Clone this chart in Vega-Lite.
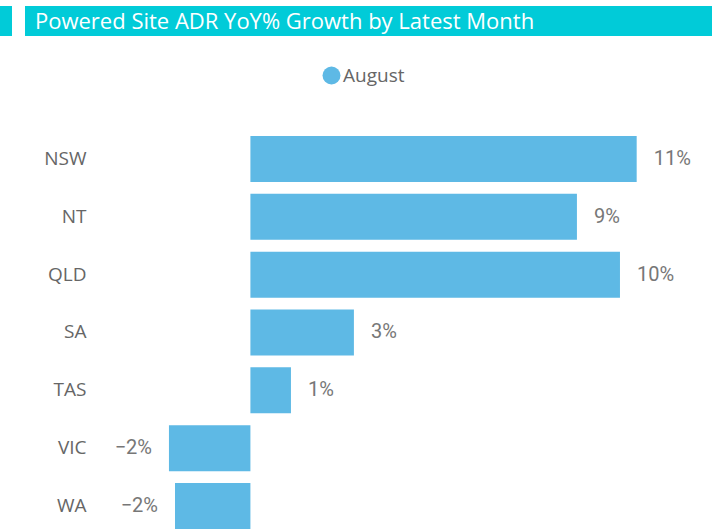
{
  "$schema": "https://vega.github.io/schema/vega-lite/v6.json",
  "padding": {"left": 0, "top": 6, "right": 0, "bottom": 0},
  "spacing": 14,
  "config": {"view": {"stroke": null}, "concat": {"spacing": 13}},
  "vconcat": [
    {
      "hconcat": [
        {
          "width": 12, "height": 30,
          "view": {"fill": "#01CBD8", "stroke": null},
          "data": {"values": [{"t": ""}]},
          "mark": {"type": "text"},
          "encoding": {"text": {"field": "t"}}
        },
        {
          "width": 687, "height": 30,
          "view": {"fill": "#01CBD8", "stroke": null},
          "data": {"values": [{"t": "Powered Site ADR YoY% Growth by Latest Month"}]},
          "mark": {"type": "text", "align": "left", "baseline": "alphabetic", "color": "white", "font": "Open Sans", "fontSize": 22},
          "encoding": {"text": {"field": "t"}, "x": {"value": 10}, "y": {"value": 23}}
        }
      ]
    },
    {
      "width": 700,
      "height": 482,
      "data": {"values": [
        {"state": "NSW", "v": 0.1086, "month": "August"},
        {"state": "NT", "v": 0.0918, "month": "August"},
        {"state": "QLD", "v": 0.1039, "month": "August"},
        {"state": "SA", "v": 0.0291, "month": "August"},
        {"state": "TAS", "v": 0.0114, "month": "August"},
        {"state": "VIC", "v": -0.0229, "month": "August"},
        {"state": "WA", "v": -0.0212, "month": "August"}
      ]},
      "encoding": {
        "y": {"field": "state", "type": "nominal", "sort": null,
              "scale": {"paddingInner": 0.2046, "paddingOuter": 0.77, "align": 0.966},
              "axis": {"title": null, "domain": false, "ticks": false, "tickSize": 0, "labelPadding": 0, "offset": -86,
                       "labelFont": "Open Sans", "labelFontSize": 19, "labelColor": "#666666"}},
        "x": {"field": "v", "type": "quantitative", "axis": null,
              "scale": {"domain": [-0.0704, 0.1264], "nice": false, "zero": false}}
      },
      "layer": [
        {
          "mark": {"type": "bar"},
          "encoding": {
            "color": {"field": "month", "type": "nominal",
                      "scale": {"range": ["#5EB9E5"]},
                      "legend": {"title": null, "orient": "none", "legendX": 322, "legendY": 60,
                                 "symbolType": "circle", "symbolSize": 324, "symbolStrokeWidth": 0,
                                 "labelFont": "Open Sans", "labelFontSize": 19, "labelColor": "#666666",
                                 "labelOffset": 2, "padding": 0}}
          }
        },
        {
          "transform": [{"filter": "datum.v >= 0"}],
          "mark": {"type": "text", "align": "left", "dx": 17, "baseline": "middle", "font": "Roboto", "fontSize": 20, "color": "#777777"},
          "encoding": {"text": {"field": "v", "type": "quantitative", "format": ".0%"}}
        },
        {
          "transform": [{"filter": "datum.v < 0"}],
          "mark": {"type": "text", "align": "right", "dx": -17, "baseline": "middle", "font": "Roboto", "fontSize": 20, "color": "#777777"},
          "encoding": {"text": {"field": "v", "type": "quantitative", "format": ".0%"}}
        }
      ]
    }
  ]
}
